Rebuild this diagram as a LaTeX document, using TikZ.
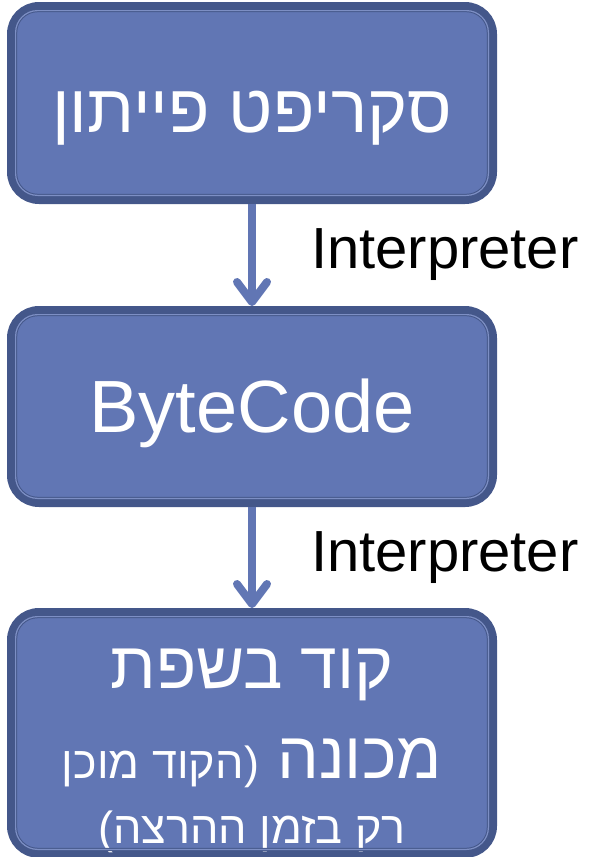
\documentclass[tikz,border=0pt]{standalone}
\usepackage{fontspec}
\setmainfont{Liberation Sans}
\newfontfamily\hebfont[Script=Hebrew]{Liberation Sans}
\TeXXeTstate=1
\usetikzlibrary{arrows.meta}
\definecolor{boxfill}{RGB}{97,118,180}
\definecolor{boxedge}{RGB}{68,87,138}
\definecolor{boxrim}{RGB}{125,143,196}
\begin{document}
\begin{tikzpicture}[x=1pt, y=-1pt,
    stage/.style={rectangle, rounded corners=28pt, draw=boxedge, line width=8pt,
        outer sep=4pt, fill=boxfill, text=white, minimum width=482pt,
        inner sep=0pt, align=center},
    rim/.style={draw=boxedge, double=boxrim, double distance=1.2pt,
        line width=1pt, rounded corners=22pt},
    flow/.style={draw=boxfill, line width=8pt,
        -{Straight Barb[length=20pt, width=30pt, line cap=round, line join=round]}},
    lbl/.style={inner sep=0pt, font=\fontsize{58}{70}\selectfont}
]
\useasboundingbox (0,0) rectangle (590,857);

% the three stages
\node[stage, minimum height=194pt, text height=58pt, text depth=0pt,
    font=\hebfont\fontsize{68}{70}\selectfont] (script) at (252,103)
    {\beginR סקריפט פייתון\endR};
\node[stage, minimum height=193pt, text height=51pt, text depth=0pt,
    font=\fontsize{74}{80}\selectfont] (byte) at (252,406.5) {ByteCode};
\node[stage, minimum height=242pt, text height=220pt, text depth=0pt,
    font=\hebfont\fontsize{66}{90}\selectfont] (machine) at (252,733)
    {\beginR קוד בשפת\endR\\
     \beginR מכונה {\fontsize{45}{60}\selectfont (הקוד מוכן}\endR\\[-25pt]
     {\fontsize{45}{60}\selectfont\beginR רק בזמן ההרצה)\endR}};

% inner rims
\foreach \s in {script, byte, machine}
    \draw[rim] ([shift={(8.6,8.6)}]\s.north west) rectangle ([shift={(-8.6,-8.6)}]\s.south east);

% arrows
\draw[flow] (script) -- node[lbl, right=55pt] (int1) {Interpreter} (byte);
\draw[flow] (byte) -- node[lbl, right=55pt] (int2) {Interpreter} (machine);
\end{tikzpicture}
\end{document}
